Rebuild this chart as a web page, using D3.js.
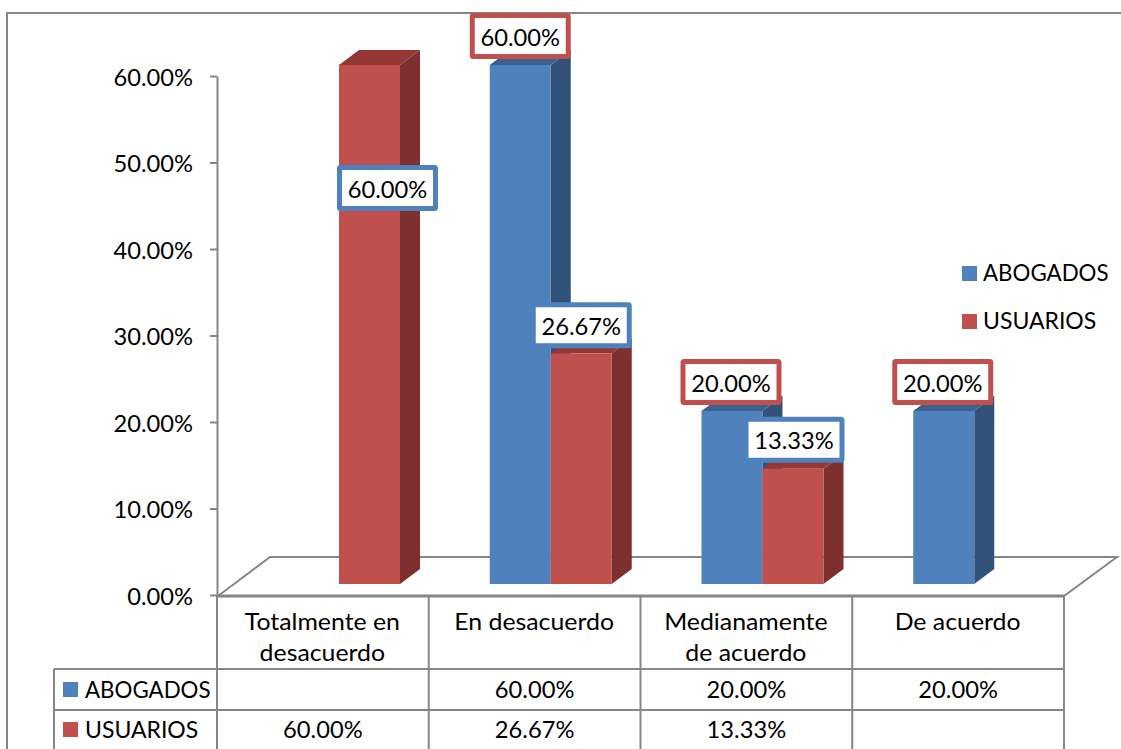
<!DOCTYPE html>
<html>
<head>
<meta charset="utf-8">
<script src="https://cdn.jsdelivr.net/npm/d3@7"></script>
<style>
  html, body { margin: 0; padding: 0; background: #fff; }
  svg { display: block; }
  text { font-family: Lato, "Open Sans", sans-serif; fill: #000; }
</style>
</head>
<body>
<div id="chart"></div>
<script>
const categories = [['Totalmente en', 'desacuerdo'], ['En desacuerdo'], ['Medianamente', 'de acuerdo'], ['De acuerdo']];
const seriesNames = ['ABOGADOS', 'USUARIOS'];
const abogados = [null, 60.00, 20.00, 20.00];
const usuarios = [60.00, 26.67, 13.33, null];
const yTicks = [0, 10, 20, 30, 40, 50, 60];

const width = 1121;
const height = 749;
const fontSize = 23;
const grey = '#868686';

const colors = {
  ABOGADOS: { front: '#4f81bd', side: '#325279', top: '#3a618f' },
  USUARIOS: { front: '#c0504d', side: '#7d302e', top: '#943735' },
};
const depth = { x: 20, y: -15 };
const floorLift = 11;

// bar labels sit away from their bars, offset from the bar's top centre
const labelOffsets = {
  'ABOGADOS-1': [0, -29],
  'ABOGADOS-2': [-1, -29],
  'ABOGADOS-3': [-1, -29],
  'USUARIOS-0': [18, 123],
  'USUARIOS-1': [0, -28],
  'USUARIOS-2': [1, -29],
};

// widen or narrow a text run a little so it takes the wanted room
const stretch = (sel, factor) => sel.each(function () {
  const f = typeof factor === 'function' ? factor(this.textContent) : factor;
  this.setAttribute('textLength', this.getComputedTextLength() * f);
  this.setAttribute('lengthAdjust', 'spacingAndGlyphs');
});
const numberFactor = 1.03;
const nameFactor = (t) => (t === 'ABOGADOS' ? 0.97 : 1);

const svg = d3.select('#chart')
  .append('svg')
  .attr('width', width)
  .attr('height', height);

svg.append('rect').attr('width', width).attr('height', height).attr('fill', '#fff');

const x = d3.scaleBand()
  .domain(d3.range(categories.length))
  .range([217, 1064]);

const xInner = d3.scaleBand()
  .domain(seriesNames)
  .range([61, 183]);

const y = d3.scaleLinear().domain([0, 60]).range([595, 76]);

const line = (x1, y1, x2, y2, w = 2) => svg.append('line')
  .attr('x1', x1).attr('y1', y1).attr('x2', x2).attr('y2', y2)
  .attr('stroke', grey).attr('stroke-width', w);

// outer frame of the chart area
line(7, 12, 7, height);
line(7, 13, width, 13);

// 3d floor
svg.append('path')
  .attr('d', `M${x.range()[0] + 1},${y(0) + 1}L270,557H1117L${x.range()[1]},${y(0) + 1}`)
  .attr('fill', 'none')
  .attr('stroke', grey)
  .attr('stroke-width', 2);

// y axis
const yAxis = svg.append('g')
  .attr('transform', `translate(${x.range()[0]},0)`)
  .call(d3.axisLeft(y)
    .tickValues(yTicks)
    .tickFormat((d) => `${d3.format('.2f')(d)}%`)
    .tickSize(7)
    .tickPadding(17)
    .tickSizeOuter(0));
yAxis.select('.domain').attr('stroke', grey).attr('stroke-width', 2);
yAxis.selectAll('.tick line').attr('stroke', grey).attr('stroke-width', 2);
yAxis.attr('font-family', null).attr('font-size', null);
yAxis.selectAll('.tick text')
  .attr('font-size', fontSize)
  .attr('dy', '0.4em')
  .call(stretch, numberFactor);

// bars
const bars = [];
categories.forEach((c, i) => {
  [abogados[i], usuarios[i]].forEach((v, s) => {
    if (v !== null) bars.push({ cat: i, series: seriesNames[s], value: v });
  });
});

const barX = (d) => x(d.cat) + xInner(d.series);
const barTop = (d) => y(d.value) - floorLift;
const barBottom = y(0) - floorLift;

const barGroups = svg.append('g')
  .attr('class', 'bars')
  .selectAll('g')
  .data(bars)
  .enter()
  .append('g');

barGroups.append('path')
  .attr('fill', (d) => colors[d.series].side)
  .attr('d', (d) => {
    const r = barX(d) + xInner.bandwidth();
    return `M${r},${barTop(d)}l${depth.x},${depth.y}V${barBottom + depth.y}L${r},${barBottom}Z`;
  });

barGroups.append('path')
  .attr('fill', (d) => colors[d.series].top)
  .attr('d', (d) => `M${barX(d)},${barTop(d)}l${depth.x},${depth.y}h${xInner.bandwidth()}l${-depth.x},${-depth.y}Z`);

barGroups.append('rect')
  .attr('fill', (d) => colors[d.series].front)
  .attr('x', barX)
  .attr('y', barTop)
  .attr('width', xInner.bandwidth())
  .attr('height', (d) => barBottom - barTop(d));

// value labels, the border uses the other series' colour
const labels = svg.append('g')
  .attr('class', 'labels')
  .selectAll('g')
  .data(bars)
  .enter()
  .append('g')
  .attr('transform', (d) => {
    const off = labelOffsets[`${d.series}-${d.cat}`];
    return `translate(${barX(d) + xInner.bandwidth() / 2 + off[0]},${barTop(d) + off[1]})`;
  });

labels.append('rect')
  .attr('x', -48)
  .attr('y', -20.5)
  .attr('width', 96)
  .attr('height', 41)
  .attr('rx', 1)
  .attr('fill', '#fff')
  .attr('stroke', (d) => colors[d.series === 'ABOGADOS' ? 'USUARIOS' : 'ABOGADOS'].front)
  .attr('stroke-width', 5);

labels.append('text')
  .attr('text-anchor', 'middle')
  .attr('y', 1.5)
  .attr('dy', '0.36em')
  .attr('font-size', fontSize)
  .text((d) => `${d.value.toFixed(2)}%`)
  .call(stretch, numberFactor);

// legend
const legend = svg.append('g')
  .attr('class', 'legend')
  .selectAll('g')
  .data(seriesNames)
  .enter()
  .append('g')
  .attr('transform', (d, i) => `translate(962,${273 + i * 48})`);

legend.append('rect')
  .attr('y', -7).attr('width', 15).attr('height', 15)
  .attr('fill', (d) => colors[d].front);

legend.append('text')
  .attr('x', 21)
  .attr('dy', '0.36em')
  .attr('font-size', fontSize)
  .text((d) => d)
  .call(stretch, nameFactor);

// data table under the axis
const rowLines = [669, 710];
const tableLeft = 54;
x.domain().concat(categories.length).forEach((i) => {
  const px = i === categories.length ? x.range()[1] : x(i);
  line(px, y(0), px, height);
});
line(x.range()[0], y(0) + 1, x.range()[1], y(0) + 1, 3);
line(tableLeft, rowLines[0], tableLeft, height);
rowLines.forEach((r) => line(tableLeft, r, x.range()[1], r));

categories.forEach((c, i) => {
  c.forEach((t, j) => {
    svg.append('text')
      .attr('x', x(i) + x.bandwidth() / 2 - 0.5)
      .attr('y', 630 + j * 31)
      .attr('text-anchor', 'middle')
      .attr('font-size', fontSize)
      .text(t)
      .call(stretch, 1.08);
  });
});

[abogados, usuarios].forEach((values, r) => {
  const mid = r === 0 ? 690 : 730;
  svg.append('rect')
    .attr('x', 63).attr('y', mid - 8).attr('width', 15).attr('height', 15)
    .attr('fill', colors[seriesNames[r]].front);
  svg.append('text')
    .attr('x', 85).attr('y', mid).attr('dy', '0.36em')
    .attr('font-size', fontSize)
    .text(seriesNames[r])
    .call(stretch, nameFactor);
  values.forEach((v, i) => {
    if (v === null) return;
    svg.append('text')
      .attr('x', x(i) + x.bandwidth() / 2)
      .attr('y', mid)
      .attr('dy', '0.36em')
      .attr('text-anchor', 'middle')
      .attr('font-size', fontSize)
      .text(`${v.toFixed(2)}%`)
      .call(stretch, numberFactor);
  });
});
</script>
</body>
</html>
